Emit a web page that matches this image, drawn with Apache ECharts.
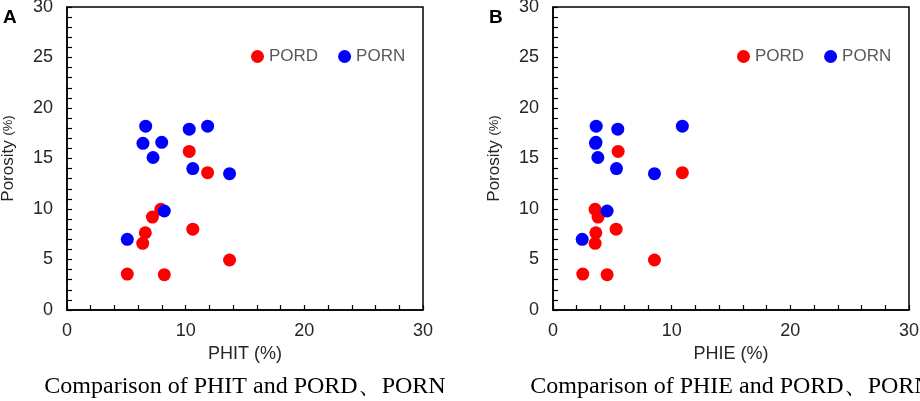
<!DOCTYPE html>
<html>
<head>
<meta charset="utf-8">
<script src="https://cdn.jsdelivr.net/npm/echarts@6/dist/echarts.min.js"></script>
<style>
    html, body {margin: 0; padding: 0; background: #fff;}
    #main {width: 920px; height: 401px;}
</style>
</head>
<body>
<div id="main"></div>
<script>
// porosity values
var pord = [15.7, 13.6, 9.97, 9.2, 7.65, 8.0, 6.6, 4.95, 3.56, 3.5];
var porn = [18.2, 17.9, 18.2, 16.5, 16.6, 15.1, 14.0, 13.5, 9.8, 7.0];
// panel A: PHIT against PORD / PORN
var phitPord = [10.3, 11.85, 7.9, 7.2, 6.6, 10.6, 6.38, 13.7, 5.08, 8.2];
var phitPorn = [6.63, 10.3, 11.85, 6.4, 7.98, 7.25, 10.6, 13.7, 8.2, 5.08];
// panel B: PHIE against PORD / PORN
var phiePord = [5.49, 10.9, 3.55, 3.8, 3.61, 5.32, 3.55, 8.55, 2.51, 4.56];
var phiePorn = [3.64, 5.46, 10.9, 3.58, 3.62, 3.78, 5.35, 8.55, 4.56, 2.46];
var legendNames = ['PORD', 'PORN'];
var panelLetters = ['A', 'B'];
var xNames = ['PHIT', 'PHIE'];
var captions = ['Comparison of PHIT and PORD、PORN', 'Comparison of PHIE and PORD、PORN'];

var sans = 'Liberation Sans';
var serif = 'Liberation Serif';

function pairs(xs, ys) {
    var out = [];
    for (var i = 0; i < xs.length; i++) {
        out.push([xs[i], ys[i]]);
    }
    return out;
}

function xAxisOf(idx) {
    return {
        gridIndex: idx,
        type: 'value',
        min: 0, max: 30, interval: 10,
        name: xNames[idx] + ' (%)',
        nameLocation: 'middle',
        nameGap: 34,
        nameTextStyle: {fontFamily: sans, fontSize: 18, color: '#262626'},
        axisLine: {onZero: false, lineStyle: {color: '#000', width: 1.5}},
        axisTick: {inside: true, length: 5, lineStyle: {color: '#000', width: 1.2}},
        minorTick: {show: true, splitNumber: 5, length: 5, lineStyle: {color: '#000', width: 1.2}},
        axisLabel: {margin: 12, fontFamily: sans, fontSize: 18, color: '#262626'},
        splitLine: {show: false}
    };
}

function yAxisOf(idx) {
    return {
        gridIndex: idx,
        type: 'value',
        min: 0, max: 30, interval: 5,
        name: 'Porosity {s|(%)}',
        nameLocation: 'middle',
        nameGap: 50,
        nameMoveOverlap: false,
        nameTextStyle: {
            fontFamily: sans, fontSize: 17, color: '#262626',
            rich: {s: {fontFamily: sans, fontSize: 13, color: '#262626'}}
        },
        axisLine: {onZero: false, lineStyle: {color: '#000', width: 1.5}},
        axisTick: {inside: true, length: 5, lineStyle: {color: '#000', width: 1.2}},
        minorTick: {show: true, splitNumber: 5, length: 5, lineStyle: {color: '#000', width: 1.2}},
        axisLabel: {margin: 14, fontFamily: sans, fontSize: 18, color: '#262626'},
        splitLine: {show: false}
    };
}

function legendOf(left) {
    return {
        data: legendNames,
        left: left,
        top: 43,
        icon: 'circle',
        itemWidth: 13,
        itemHeight: 13,
        itemGap: 20,
        textStyle: {fontFamily: sans, fontSize: 17, color: '#595959'}
    };
}

function scatter(name, idx, data, color) {
    return {
        name: name,
        type: 'scatter',
        xAxisIndex: idx,
        yAxisIndex: idx,
        symbolSize: 13,
        itemStyle: {color: color, opacity: 1},
        data: data
    };
}

function gridOf(left) {
    return {
        left: left, top: 7, width: 356, height: 303,
        containLabel: false,
        outerBoundsMode: 'none',
        show: true, borderColor: '#000', borderWidth: 1.5
    };
}

var gridLefts = [67, 553];
var graphics = [];
for (var g = 0; g < 2; g++) {
    //panel letter
    graphics.push({
        type: 'text', left: gridLefts[g] - 64, top: 8,
        style: {text: panelLetters[g], font: 'bold 19px ' + sans, fill: '#000'}
    });
    //caption under each panel
    graphics.push({
        type: 'text', x: gridLefts[g] + 178, y: 387,
        style: {
            text: captions[g], font: '24px ' + serif, fill: '#000',
            textAlign: 'center', textVerticalAlign: 'middle'
        }
    });
}

var myChart = echarts.init(document.getElementById('main'));
myChart.setOption({
    animation: false,
    grid: [gridOf(gridLefts[0]), gridOf(gridLefts[1])],
    legend: [legendOf(246), legendOf(732)],
    xAxis: [xAxisOf(0), xAxisOf(1)],
    yAxis: [yAxisOf(0), yAxisOf(1)],
    graphic: graphics,
    series: [
        scatter('PORD', 0, pairs(phitPord, pord), '#ff0000'),
        scatter('PORN', 0, pairs(phitPorn, porn), '#0000ff'),
        scatter('PORD', 1, pairs(phiePord, pord), '#ff0000'),
        scatter('PORN', 1, pairs(phiePorn, porn), '#0000ff')
    ]
});
</script>
</body>
</html>
